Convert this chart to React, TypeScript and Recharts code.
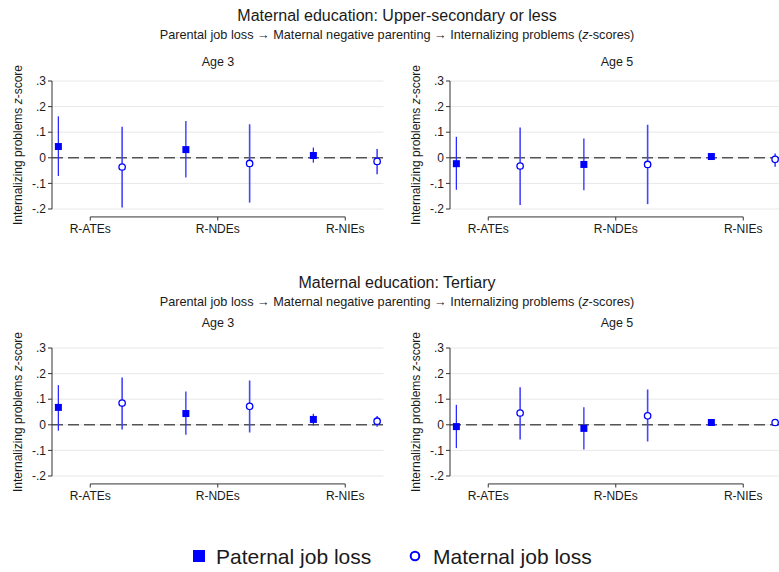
import React from 'react';
import { ScatterChart, Scatter, XAxis, YAxis, CartesianGrid, ReferenceLine, ErrorBar } from 'recharts';

const categories = ['R-ATEs', 'R-NDEs', 'R-NIEs'];
const yTicks = [-0.2, -0.1, 0, 0.1, 0.2, 0.3];

// Upper-secondary or less, age 3
const us3PatEst = [0.044, 0.032, 0.009];
const us3PatLo = [-0.071, -0.077, -0.019];
const us3PatHi = [0.162, 0.144, 0.04];
const us3MatEst = [-0.036, -0.022, -0.014];
const us3MatLo = [-0.194, -0.175, -0.064];
const us3MatHi = [0.121, 0.131, 0.034];

// Upper-secondary or less, age 5
const us5PatEst = [-0.023, -0.026, 0.005];
const us5PatLo = [-0.125, -0.127, -0.003];
const us5PatHi = [0.082, 0.075, 0.013];
const us5MatEst = [-0.032, -0.026, -0.006];
const us5MatLo = [-0.184, -0.181, -0.035];
const us5MatHi = [0.118, 0.129, 0.017];

// Tertiary, age 3
const te3PatEst = [0.068, 0.044, 0.021];
const te3PatLo = [-0.023, -0.039, -0.003];
const te3PatHi = [0.155, 0.13, 0.043];
const te3MatEst = [0.085, 0.072, 0.014];
const te3MatLo = [-0.018, -0.03, -0.008];
const te3MatHi = [0.185, 0.173, 0.034];

// Tertiary, age 5
const te5PatEst = [-0.007, -0.014, 0.009];
const te5PatLo = [-0.091, -0.096, 0.004];
const te5PatHi = [0.078, 0.069, 0.014];
const te5MatEst = [0.046, 0.035, 0.009];
const te5MatLo = [-0.057, -0.065, -0.004];
const te5MatHi = [0.147, 0.138, 0.021];

const FONT = '"Liberation Sans", Arial, Helvetica, sans-serif';
const BLUE = '#0000ff';
const INK = '#1a1a1a';
const BRACKET_Y = -0.231;
const BRACKET_TICK = -0.245;

function toPoints(est: number[], lo: number[], hi: number[], offset: number) {
  return est.map((v, i) => ({ x: i + 1 + offset, y: v, err: [v - lo[i], hi[i] - v] }));
}

const fmtY = (v: number) => (v === 0 ? '0' : (v < 0 ? '-' : '') + Math.abs(v).toFixed(1).replace(/^0/, ''));

const Square = (p: any) => <rect x={p.cx - 3.5} y={p.cy - 3.5} width={7} height={7} fill={BLUE} />;
const Ring = (p: any) => <circle cx={p.cx} cy={p.cy} r={3.2} fill="#fff" stroke={BLUE} strokeWidth={1.3} />;
const Blank = () => <g />;

const CatTick = (p: any) => (
  <text x={p.x} y={p.y + 24} textAnchor="middle" fontSize={12} fill={INK} fontFamily={FONT}>
    {categories[p.payload.value - 1]}
  </text>
);

const YLabel = (p: any) => {
  const vb = p.viewBox;
  return (
    <text
      transform={`translate(${vb.x + 17.5}, ${vb.y + vb.height / 2}) rotate(-90)`}
      textAnchor="middle"
      dominantBaseline="central"
      fontSize={12}
      fill={INK}
      fontFamily={FONT}
    >
      Internalizing problems <tspan fontStyle="italic">z</tspan>-score
    </text>
  );
};

function Panel({ left, top, pat, mat }: { left: number; top: number; pat: any[]; mat: any[] }) {
  return (
    <div style={{ position: 'absolute', left, top, width: 390, height: 189 }}>
      <ScatterChart width={390} height={189} margin={{ top: 31, right: 6.5, left: 0, bottom: 0 }}>
        <CartesianGrid vertical={false} stroke="#e8e8e8" />
        <XAxis
          type="number"
          dataKey="x"
          domain={[0.7, 3.3]}
          ticks={[1, 2, 3]}
          allowDataOverflow
          axisLine={false}
          tickLine={false}
          tickSize={0}
          tickMargin={0}
          height={30}
          interval={0}
          tick={<CatTick />}
        />
        <YAxis
          type="number"
          dataKey="y"
          domain={[-0.2, 0.3]}
          ticks={yTicks}
          allowDataOverflow
          width={52}
          tickFormatter={fmtY}
          tick={{ fontSize: 12, fill: INK, fontFamily: FONT }}
          tickSize={4}
          tickMargin={2}
          stroke="#333"
          label={YLabel}
        />
        <ReferenceLine y={0} stroke="#555" strokeWidth={1.5} strokeDasharray="11 5" />
        <ReferenceLine segment={[{ x: 1, y: BRACKET_Y }, { x: 3, y: BRACKET_Y }]} ifOverflow="visible" stroke="#333" />
        {[1, 2, 3].map((k) => (
          <ReferenceLine
            key={k}
            segment={[{ x: k, y: BRACKET_Y }, { x: k, y: BRACKET_TICK }]}
            ifOverflow="visible"
            stroke="#333"
          />
        ))}
        <Scatter data={pat} shape={Blank} isAnimationActive={false}>
          <ErrorBar dataKey="err" direction="y" width={0} stroke="#2b2bff" strokeWidth={1.3} isAnimationActive={false} />
        </Scatter>
        <Scatter data={mat} shape={Blank} isAnimationActive={false}>
          <ErrorBar dataKey="err" direction="y" width={0} stroke="#4545ff" strokeWidth={1.6} isAnimationActive={false} />
        </Scatter>
        <Scatter data={pat} shape={Square} isAnimationActive={false} />
        <Scatter data={mat} shape={Ring} isAnimationActive={false} />
      </ScatterChart>
    </div>
  );
}

function RowTitle({ y, title }: { y: number; title: string }) {
  return (
    <g fontFamily={FONT} fill={INK} textAnchor="middle">
      <text x={397} y={y} fontSize={16} dominantBaseline="central">{title}</text>
      <text x={397} y={y + 19.5} fontSize={12.7} dominantBaseline="central">
        Parental job loss {'\u2192'} Maternal negative parenting {'\u2192'} Internalizing problems (<tspan fontStyle="italic">z</tspan>-scores)
      </text>
    </g>
  );
}

export default function App() {
  return (
    <div style={{ position: 'absolute', left: 0, top: 0, width: 779, height: 572, overflow: 'hidden', background: '#fff' }}>
      <svg width={779} height={572} style={{ position: 'absolute', left: 0, top: 0 }}>
        <RowTitle y={15} title="Maternal education: Upper-secondary or less" />
        <RowTitle y={282} title="Maternal education: Tertiary" />
        <g fontFamily={FONT} fill={INK} fontSize={12.5} textAnchor="middle" dominantBaseline="central">
          <text x={218} y={62}>Age 3</text>
          <text x={617} y={62}>Age 5</text>
          <text x={218} y={323}>Age 3</text>
          <text x={617} y={323}>Age 5</text>
        </g>
        <rect x={193} y={550} width={12} height={12} fill={BLUE} />
        <text x={216} y={556} fontSize={21} fontFamily={FONT} fill={INK} dominantBaseline="central">Paternal job loss</text>
        <circle cx={415} cy={556} r={4.3} fill="#fff" stroke={BLUE} strokeWidth={2} />
        <text x={433} y={556} fontSize={21} fontFamily={FONT} fill={INK} dominantBaseline="central">Maternal job loss</text>
      </svg>
      <Panel left={0} top={50} pat={toPoints(us3PatEst, us3PatLo, us3PatHi, -0.25)} mat={toPoints(us3MatEst, us3MatLo, us3MatHi, 0.25)} />
      <Panel left={398} top={50} pat={toPoints(us5PatEst, us5PatLo, us5PatHi, -0.25)} mat={toPoints(us5MatEst, us5MatLo, us5MatHi, 0.25)} />
      <Panel left={0} top={317} pat={toPoints(te3PatEst, te3PatLo, te3PatHi, -0.25)} mat={toPoints(te3MatEst, te3MatLo, te3MatHi, 0.25)} />
      <Panel left={398} top={317} pat={toPoints(te5PatEst, te5PatLo, te5PatHi, -0.25)} mat={toPoints(te5MatEst, te5MatLo, te5MatHi, 0.25)} />
    </div>
  );
}
